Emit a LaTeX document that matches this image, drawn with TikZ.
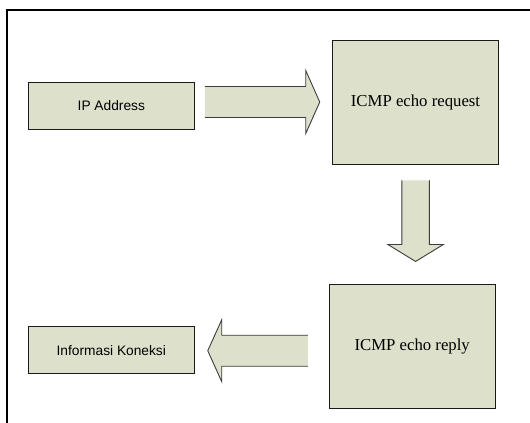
\documentclass[tikz,border=0pt]{standalone}
\usepackage{fontspec}
\usetikzlibrary{calc}
\newfontfamily\arialf{Liberation Sans}
\newfontfamily\timesf{Liberation Serif}
\definecolor{boxfill}{RGB}{221,224,203}
\definecolor{boxline}{RGB}{26,26,26}
\definecolor{arrline}{RGB}{60,60,60}

% block arrow: #1 tail point, #2 direction angle, #3 total length,
% #4 shaft half width, #5 head half width, #6 head length
\newcommand\blockarrow[6]{%
  \begin{scope}[shift={(#1)}, rotate=#2]
    \fill[boxfill] (0,-#4) -- (#3-#6,-#4) -- (#3-#6,-#5) -- (#3,0)
      -- (#3-#6,#5) -- (#3-#6,#4) -- (0,#4) -- cycle;
    \draw[arrline, line width=0.9bp, line join=miter]
      (0,-#4) -- (#3-#6,-#4) -- (#3-#6,-#5) -- (#3,0)
      -- (#3-#6,#5) -- (#3-#6,#4) -- (0,#4);
  \end{scope}}

\begin{document}
\begin{tikzpicture}[x=1bp, y=-1bp,
  sansbox/.style={draw=boxline, fill=boxfill, line width=0.9bp, inner sep=0pt,
    font=\arialf\fontsize{13.8}{16}\selectfont},
  serifbox/.style={draw=boxline, fill=boxfill, line width=0.9bp, inner sep=0pt,
    font=\timesf\fontsize{16.8}{20}\selectfont}]
  \useasboundingbox (0,0) rectangle (530,422);
  \clip (0,0) rectangle (530,422);
  \fill[white] (0,0) rectangle (530,422);

  % outer frame, running past the right and bottom edges
  \draw[line width=2bp] (7,10) rectangle (560,450);

  % process boxes
  \node[sansbox, minimum width=166bp, minimum height=47bp] (ip) at (111.3,105.8) {IP Address};
  \node[serifbox, minimum width=166bp, minimum height=124bp] (req) at (415.5,102) {ICMP echo request};
  \node[serifbox, minimum width=166bp, minimum height=124bp] (rep) at (412.2,346.3) {ICMP echo reply};
  \node[sansbox, minimum width=166bp, minimum height=47bp] (info) at (111.3,350.3) {Informasi Koneksi};

  % tails of the block arrows
  \coordinate (t1) at ($(ip.east)+(10,-3.8)$);
  \coordinate (t2) at ($(req.south)+(0.1,16)$);
  \coordinate (t3) at ($(rep.west)+(-21,4.4)$);

  \blockarrow{t1}{0}{115}{15.5}{31.5}{14}
  \blockarrow{t2}{-90}{81}{13.8}{27.8}{17}
  \blockarrow{t3}{180}{100}{15.5}{31}{14}
\end{tikzpicture}
\end{document}
